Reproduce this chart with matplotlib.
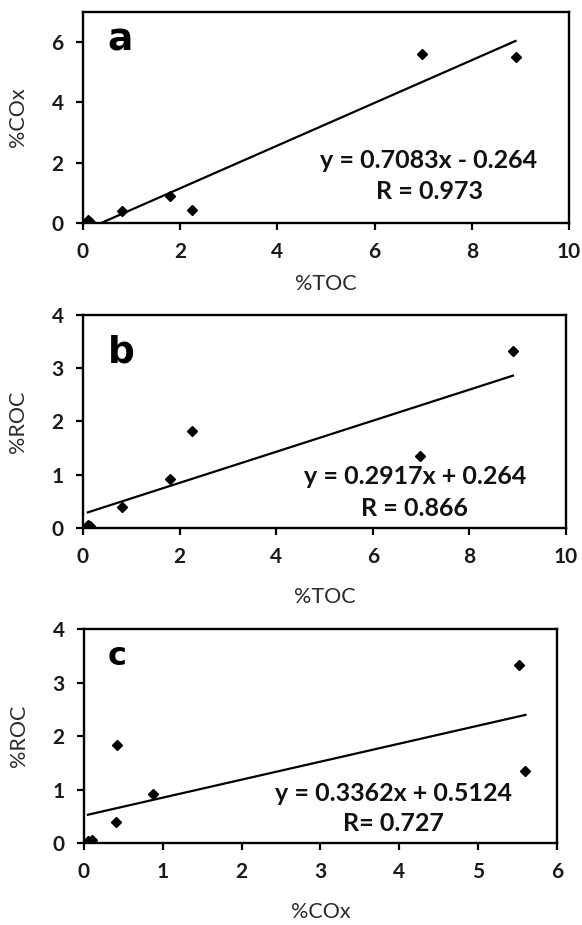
import matplotlib
matplotlib.use('Agg')
import matplotlib.pyplot as plt

# sample values
toc = [0.10, 0.15, 0.80, 1.80, 2.25, 6.98, 8.90]
cox = [0.10, 0.05, 0.40, 0.88, 0.42, 5.60, 5.52]
roc = [0.05, 0.03, 0.40, 0.92, 1.83, 1.35, 3.33]

# trend lines as printed on the panels
slopes = [0.7083, 0.2917, 0.3362]
intercepts = [-0.264, 0.264, 0.5124]
eq_labels = ['y = 0.7083x - 0.264', 'y = 0.2917x + 0.264', 'y = 0.3362x + 0.5124']
r_labels = ['R = 0.973', 'R = 0.866', 'R= 0.727']
panel_letters = ['a', 'b', 'c']

plt.rcParams['font.family'] = ['Lato', 'DejaVu Sans']

fig = plt.figure(figsize=(5.82, 9.25), dpi=100)

ax_rects = [
    [0.1426, 0.7589, 0.8350, 0.2281],
    [0.1426, 0.4292, 0.8299, 0.2303],
    [0.1443, 0.0886, 0.8127, 0.2314],
]

panels = [
    (toc, cox, '%TOC', '%COx', (0, 10), (0, 7), range(0, 11, 2), range(0, 7, 2)),
    (toc, roc, '%TOC', '%ROC', (0, 10), (0, 4), range(0, 11, 2), range(0, 5)),
    (cox, roc, '%COx', '%ROC', (0, 6), (0, 4), range(0, 7), range(0, 5)),
]

text_pos = [(7.12, 2.09, 1.03), (6.87, 0.96, 0.375), (3.92, 0.93, 0.37)]
letter_pos = [(0.51, 5.73, 27), (0.52, 3.11, 27), (0.30, 3.33, 23)]
xlabel_pad = [8, 14, 14]

for i, (xs, ys, xl, yl, xlim, ylim, xt, yt) in enumerate(panels):
    ax = fig.add_axes(ax_rects[i])
    ax.plot(xs, ys, linestyle='none', marker='D', markersize=5, color='black')

    x0, x1 = min(xs), max(xs)
    ax.plot([x0, x1], [slopes[i] * x0 + intercepts[i], slopes[i] * x1 + intercepts[i]],
            color='black', linewidth=1.6)

    ax.set_xlim(*xlim)
    ax.set_ylim(*ylim)
    ax.set_xticks(list(xt))
    ax.set_yticks(list(yt))
    ax.tick_params(direction='out', length=5, width=1.6, labelsize=15, pad=9)
    for lab in ax.get_xticklabels() + ax.get_yticklabels():
        lab.set_fontweight('bold')
        lab.set_color('#1a1a1a')
    for s in ax.spines.values():
        s.set_linewidth(1.7)

    ax.set_xlabel(xl, fontsize=15.5, color='#2a2a2a', labelpad=xlabel_pad[i])
    ax.set_ylabel(yl, fontsize=15.5, color='#2a2a2a', labelpad=17)

    tx, ty1, ty2 = text_pos[i]
    ax.text(tx, ty1, eq_labels[i], ha='center', va='center', fontsize=18, fontweight='bold', color='#111111')
    ax.text(tx, ty2, r_labels[i], ha='center', va='center', fontsize=18, fontweight='bold', color='#111111')

    lx, ly, ls = letter_pos[i]
    ax.text(lx, ly, panel_letters[i], ha='left', va='baseline', fontsize=ls,
            fontweight='bold', color='black', family=['DejaVu Sans'])

fig.savefig('out.png', dpi=100)
